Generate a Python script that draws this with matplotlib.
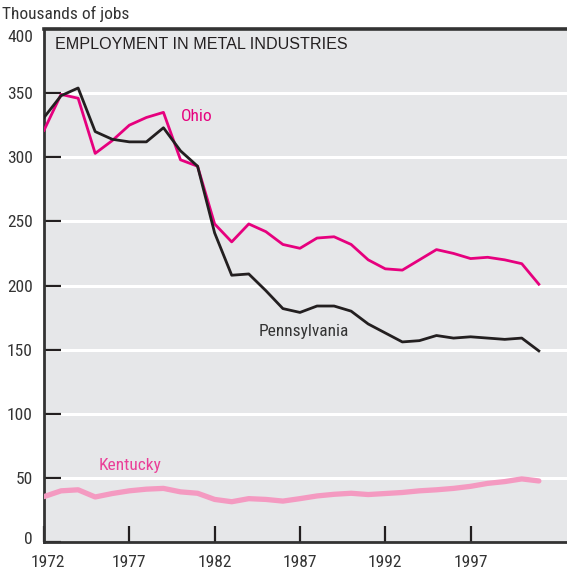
import matplotlib
matplotlib.use("Agg")
import matplotlib.pyplot as plt
import matplotlib.transforms as mtransforms
from matplotlib import font_manager

years = [1972, 1973, 1974, 1975, 1976, 1977, 1978, 1979, 1980, 1981,
         1982, 1983, 1984, 1985, 1986, 1987, 1988, 1989, 1990, 1991,
         1992, 1993, 1994, 1995, 1996, 1997, 1998, 1999, 2000, 2001]

ohio = [321, 349, 346, 303, 313, 325, 331, 335, 298, 293,
        248, 234, 248, 242, 232, 229, 237, 238, 232, 220,
        213, 212, 220, 228, 225, 221, 222, 220, 217, 201]

pennsylvania = [331, 348, 354, 320, 314, 312, 312, 323, 305, 293,
                241, 208, 209, 196, 182, 179, 184, 184, 180, 170,
                163, 156, 157, 161, 159, 160, 159, 158, 159, 149]

kentucky = [35.4, 39.9, 40.7, 35.1, 37.8, 39.9, 41.2, 41.8, 39.1, 38.0,
            33.2, 31.4, 33.8, 33.2, 31.9, 33.8, 35.9, 37.2, 38.0, 37.0,
            37.8, 38.6, 39.9, 40.7, 41.8, 43.4, 45.7, 47.1, 49.2, 47.6]

y_ticks = [0, 50, 100, 150, 200, 250, 300, 350, 400]
x_ticks = [1972, 1977, 1982, 1987, 1992, 1997]

installed = {f.name for f in font_manager.fontManager.ttflist}
narrow_name = next((n for n in ("Liberation Sans Narrow", "Roboto Condensed",
                                "Open Sans Condensed", "Noto Sans Condensed")
                    if n in installed), None)
if narrow_name:
    narrow = [narrow_name, "DejaVu Sans"]
    tick_size = 12.5
else:
    narrow = ["Liberation Sans", "DejaVu Sans"]
    tick_size = 11
regular = ["Liberation Sans", "DejaVu Sans"]

fig = plt.figure(figsize=(5.67, 5.74), dpi=100)
ax = fig.add_axes([44 / 567, 32 / 574, 1 - 44 / 567, 513 / 574])
ax.set_facecolor("#e6e7e9")

ax.set_xlim(1972, 2002.65)
ax.set_ylim(0, 400)

for v in y_ticks[1:-1]:
    ax.axhline(v, color="white", linewidth=2.2, zorder=1)

ax.plot(years, kentucky, color="#f49ac1", linewidth=3.8, zorder=3,
        solid_capstyle="round")
ax.plot(years, ohio, color="#e6007e", linewidth=2.0, zorder=4)
ax.plot(years, pennsylvania, color="#231f20", linewidth=2.0, zorder=5)

ax.text(1980.0, 332, "Ohio", color="#e6007e", fontsize=tick_size,
        family=narrow, va="center", ha="left")
ax.text(1984.55, 164, "Pennsylvania", color="#333333", fontsize=tick_size,
        family=narrow, va="center", ha="left")
ax.text(1975.2, 59.5, "Kentucky", color="#ea3f98", fontsize=tick_size,
        family=narrow, va="center", ha="left")

ax.text(0.021, 0.969, "EMPLOYMENT IN METAL INDUSTRIES", transform=ax.transAxes,
        fontsize=11.6, family=regular, color="#231f20", va="center", ha="left")

ax.set_xticks(x_ticks)
ax.set_xticklabels([str(x) for x in x_ticks], family=narrow, fontsize=tick_size,
                   color="#333333")
ax.set_yticks(y_ticks)
ax.set_yticklabels([str(v) for v in y_ticks], family=narrow, fontsize=tick_size,
                   color="#333333")
ax.tick_params(axis="x", direction="in", length=11.5, width=1.6, pad=9.5,
               color="#231f20")
ax.tick_params(axis="y", direction="in", length=12.5, width=1.6, pad=8,
               color="#231f20")

# the end labels are nudged inward, as in the reference
ylabels = ax.get_yticklabels()
up = mtransforms.ScaledTranslation(0, 3 / 72, fig.dpi_scale_trans)
down = mtransforms.ScaledTranslation(0, -5 / 72, fig.dpi_scale_trans)
ylabels[0].set_transform(ylabels[0].get_transform() + up)
ylabels[-1].set_transform(ylabels[-1].get_transform() + down)
right = mtransforms.ScaledTranslation(3 / 72, 0, fig.dpi_scale_trans)
first = ax.get_xticklabels()[0]
first.set_transform(first.get_transform() + right)

for side in ("left", "bottom", "top"):
    ax.spines[side].set_color("#333333")
    ax.spines[side].set_linewidth(2.0)
ax.spines["top"].set_linewidth(2.6)
ax.spines["right"].set_visible(False)

fig.text(2 / 567, 1 - 14 / 574, "Thousands of jobs", family=narrow,
         fontsize=tick_size, color="#333333", va="center", ha="left")

fig.savefig("out.png", dpi=100)
